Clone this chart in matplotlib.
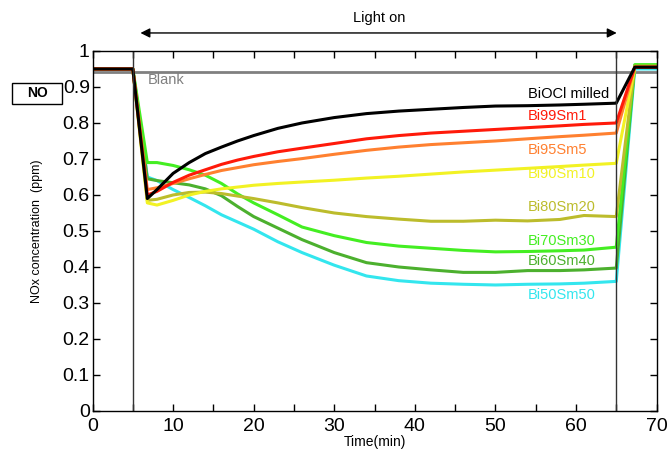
import matplotlib
matplotlib.use("Agg")
import matplotlib.pyplot as plt
from matplotlib.ticker import MultipleLocator
from matplotlib.patches import Rectangle

plt.rcParams['font.family'] = ['Liberation Sans', 'DejaVu Sans']

# time grid (min), light on between 5 and 65
t = [0, 5, 6.8, 8, 10, 12, 14, 16, 18, 20, 23, 26, 30, 34, 38, 42, 46, 50, 54, 58, 61, 65, 67.3, 70]

biocl = [0.95, 0.95, 0.59, 0.615, 0.66, 0.69, 0.715, 0.733, 0.75, 0.765, 0.785, 0.80, 0.815, 0.826,
         0.833, 0.838, 0.843, 0.847, 0.848, 0.85, 0.852, 0.855, 0.955, 0.955]
bi99 = [0.95, 0.95, 0.60, 0.61, 0.635, 0.655, 0.67, 0.685, 0.697, 0.707, 0.72, 0.73, 0.743, 0.756,
        0.765, 0.772, 0.777, 0.782, 0.787, 0.792, 0.796, 0.80, 0.955, 0.955]
bi95 = [0.95, 0.95, 0.615, 0.62, 0.632, 0.645, 0.657, 0.668, 0.676, 0.684, 0.693, 0.701, 0.713, 0.724,
        0.733, 0.74, 0.745, 0.75, 0.756, 0.762, 0.766, 0.772, 0.955, 0.955]
bi90 = [0.95, 0.95, 0.578, 0.572, 0.585, 0.60, 0.61, 0.617, 0.622, 0.627, 0.632, 0.636, 0.641, 0.647,
        0.652, 0.658, 0.664, 0.669, 0.674, 0.679, 0.683, 0.688, 0.955, 0.955]
bi80 = [0.95, 0.95, 0.585, 0.588, 0.60, 0.607, 0.608, 0.604, 0.597, 0.59, 0.578, 0.565, 0.55, 0.54,
        0.533, 0.527, 0.527, 0.53, 0.528, 0.532, 0.543, 0.54, 0.958, 0.958]
bi70 = [0.95, 0.95, 0.69, 0.69, 0.682, 0.67, 0.655, 0.632, 0.603, 0.578, 0.545, 0.511, 0.487, 0.468,
        0.458, 0.452, 0.446, 0.442, 0.443, 0.445, 0.447, 0.455, 0.962, 0.962]
bi60 = [0.95, 0.95, 0.645, 0.64, 0.634, 0.628, 0.617, 0.598, 0.568, 0.54, 0.508, 0.476, 0.44, 0.412,
        0.40, 0.392, 0.385, 0.385, 0.39, 0.39, 0.392, 0.397, 0.96, 0.96]
bi50 = [0.95, 0.95, 0.65, 0.64, 0.615, 0.593, 0.57, 0.545, 0.525, 0.505, 0.47, 0.44, 0.405, 0.375,
        0.362, 0.355, 0.352, 0.35, 0.352, 0.353, 0.355, 0.36, 0.95, 0.95]

t_blank = [0, 70]
blank = [0.942, 0.942]

names = ['BiOCl milled', 'Bi99Sm1', 'Bi95Sm5', 'Bi90Sm10', 'Bi80Sm20', 'Bi70Sm30', 'Bi60Sm40', 'Bi50Sm50']
series = [biocl, bi99, bi95, bi90, bi80, bi70, bi60, bi50]
colors = ['#000000', '#ff1a0a', '#ff8030', '#f2f224', '#bcbc2c', '#44ee22', '#4cb02e', '#33e6ee']
label_y = [0.881, 0.819, 0.725, 0.658, 0.567, 0.472, 0.417, 0.322]

fig = plt.figure(figsize=(6.72, 4.51), dpi=100)
ax = fig.add_axes([0.1377, 0.0887, 0.8393, 0.7983])

ax.plot(t_blank, blank, color='#808080', lw=2)
for s, c in zip(series[::-1], colors[::-1]):
    ax.plot(t, s, color=c, lw=2.2)

# light on / off markers
ax.axvline(5, color='#333333', lw=1)
ax.axvline(65, color='#333333', lw=1)

ax.text(6.9, 0.919, 'Blank', color='#808080', fontsize=10.5, va='center')
for n, c, y in zip(names, colors, label_y):
    ax.text(54, y, n, color=c, fontsize=10.5, va='center')

ax.set_xlim(0, 70)
ax.set_ylim(0, 1)
ax.xaxis.set_major_locator(MultipleLocator(10))
ax.xaxis.set_minor_locator(MultipleLocator(5))
ax.set_yticks([i / 10 for i in range(11)])
ax.set_yticklabels(['0', '0.1', '0.2', '0.3', '0.4', '0.5', '0.6', '0.7', '0.8', '0.9', '1'])
ax.tick_params(which='both', direction='in', top=True, right=True, length=5, width=1,
               labelsize=14)
ax.tick_params(axis='y', pad=2)
ax.tick_params(axis='x', pad=5)
for sp in ax.spines.values():
    sp.set_linewidth(1)

ax.set_xlabel('Time(min)', fontsize=10, labelpad=0)
ax.set_ylabel('NOx concentration  (ppm)', fontsize=9, labelpad=14)

ax.annotate('', xy=(5.6, 1.05), xytext=(65.4, 1.05), xycoords='data',
            arrowprops=dict(arrowstyle='<|-|>', color='black', lw=1, mutation_scale=14),
            annotation_clip=False)
ax.text(35.6, 1.092, 'Light on', fontsize=10.5, ha='center', va='center', clip_on=False)

# gas label box
fig.patches.append(Rectangle((0.0179, 0.7694), 0.0744, 0.0466, transform=fig.transFigure,
                             fc='white', ec='black', lw=1))
fig.text(0.0551, 0.7927, 'NO', fontsize=10, fontweight='bold', ha='center', va='center')

fig.savefig('out.png', dpi=100)
